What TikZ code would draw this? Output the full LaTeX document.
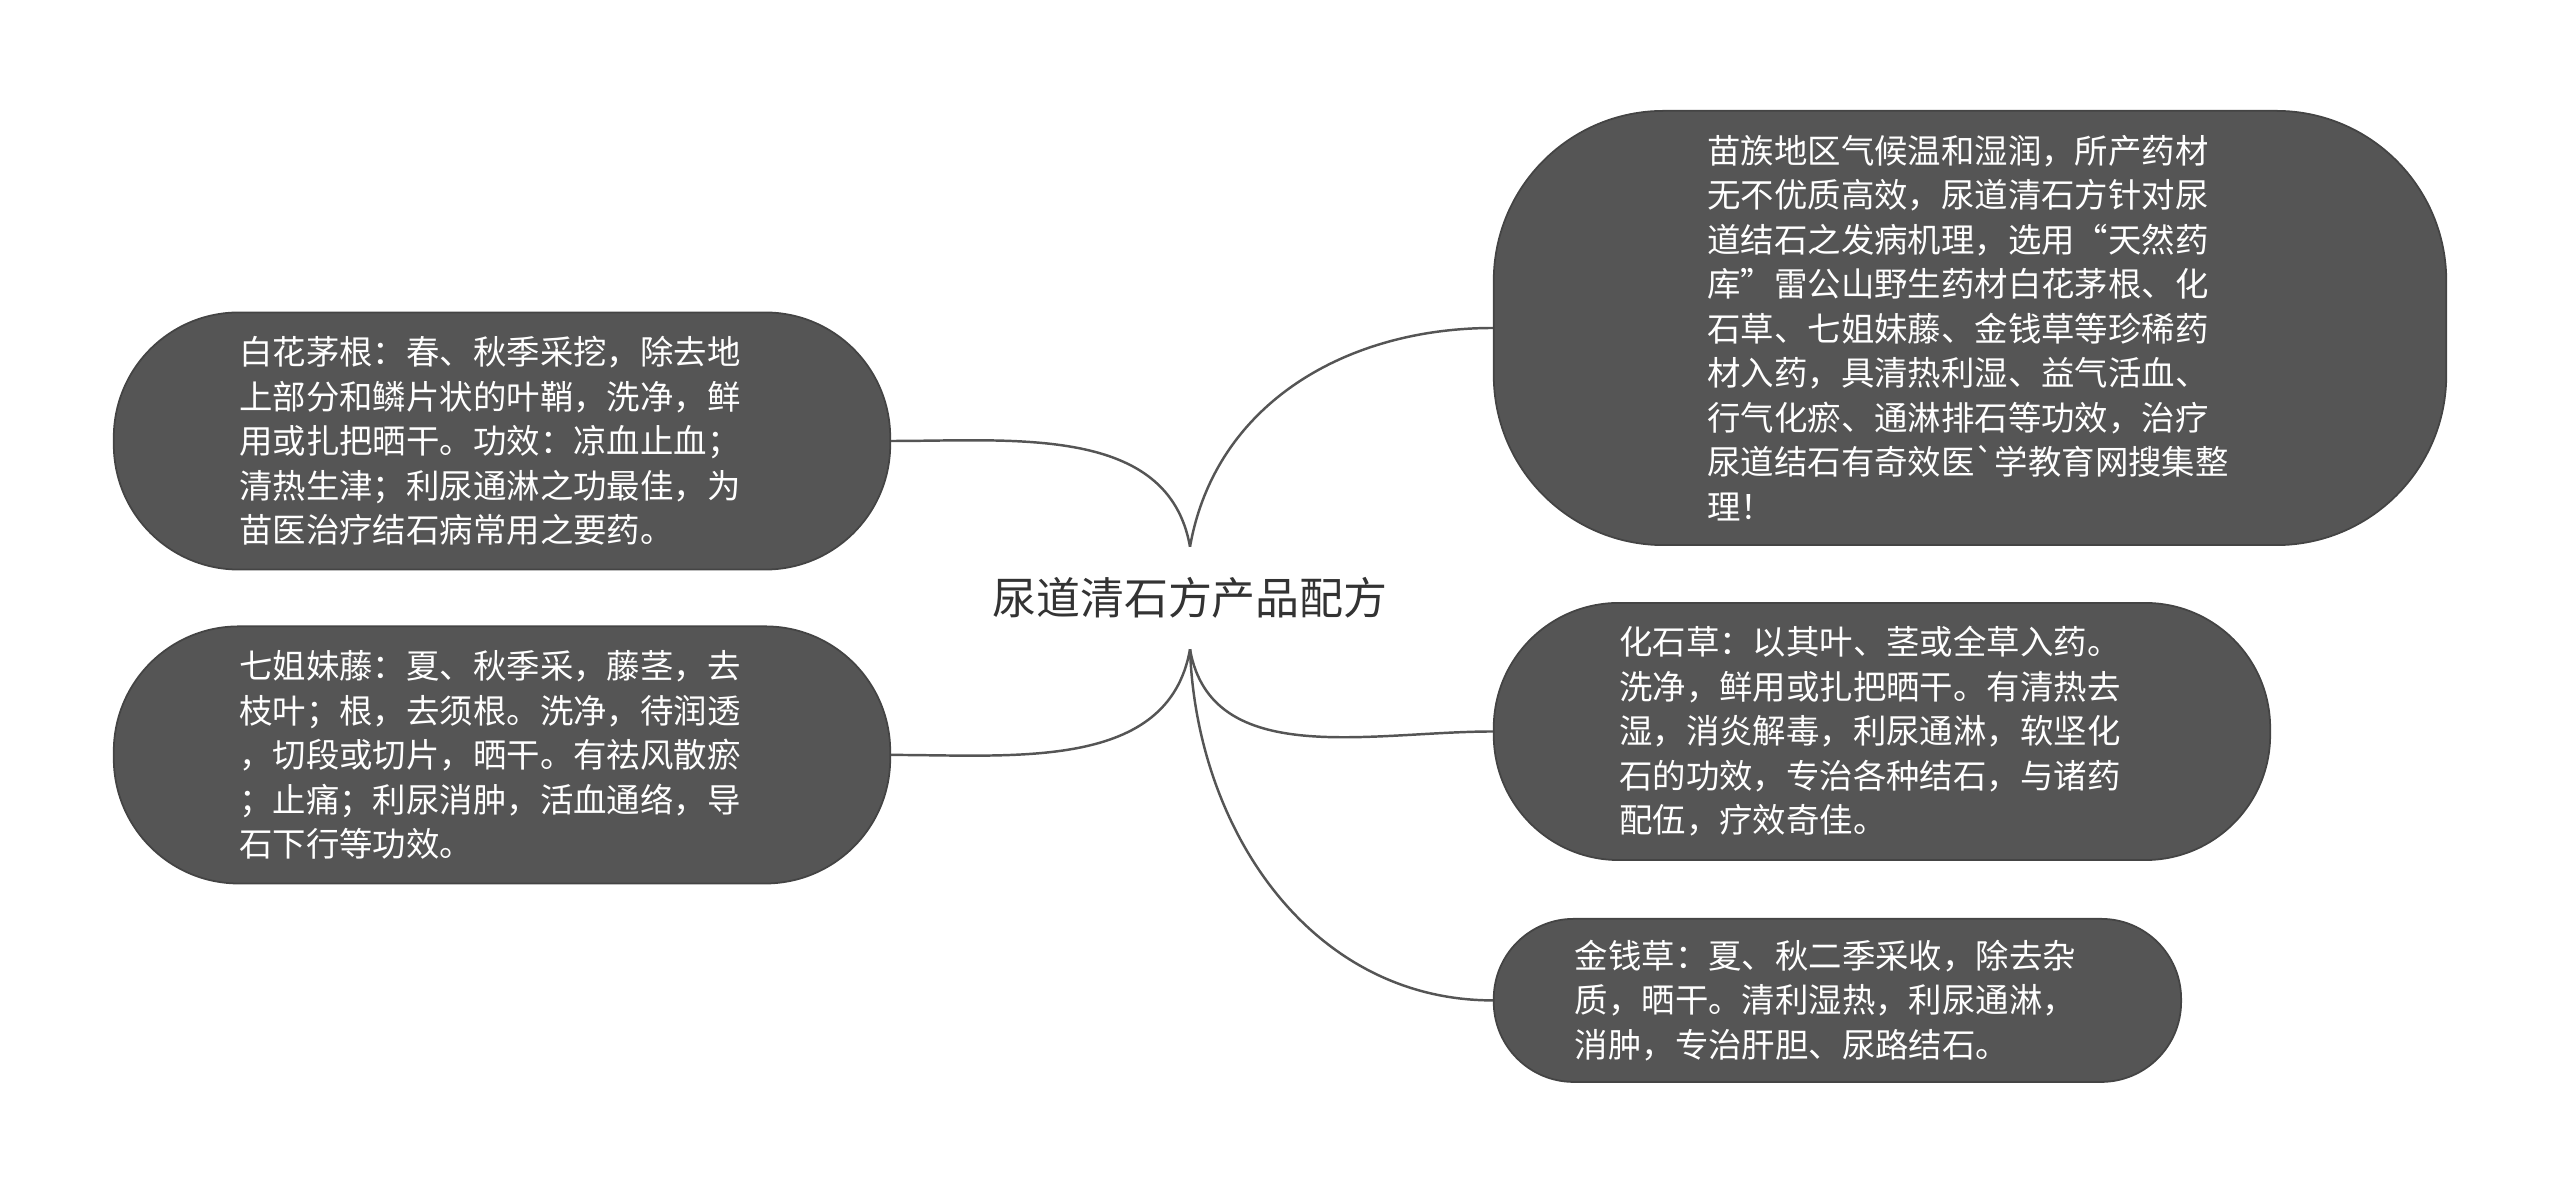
\documentclass[tikz,border=0pt]{standalone}
\usepackage{fontspec}
\newfontfamily\cjkfont{Noto Sans CJK SC}
\usepackage{tikz}
\usetikzlibrary{positioning}

\definecolor{leafgray}{HTML}{555555}
\definecolor{linkgray}{HTML}{555555}
\definecolor{rootink}{HTML}{333333}

\begin{document}
\begin{tikzpicture}[
    x=0.01cm, y=0.01cm,
    node distance=0.55cm,
    %% ── Node styles ───────────────────────────────────────────
    root/.style={
        inner xsep=0.1cm, inner ysep=0.3cm,
        text=rootink,
        font=\cjkfont\fontsize{12.5}{15}\selectfont
    },
    leaf/.style={
        rectangle, rounded corners=1.25cm,
        minimum width=7.76cm, minimum height=2.57cm,
        draw=leafgray!80!black, fill=leafgray, line width=0.5pt,
        text=white, align=left, text width=5.25cm,
        font=\cjkfont\fontsize{9.5}{12.65}\selectfont
    },
    bigleaf/.style={
        leaf, rounded corners=1.7cm,
        minimum width=9.52cm, minimum height=4.34cm
    },
    smallleaf/.style={
        leaf, rounded corners=0.8cm,
        minimum width=6.87cm, minimum height=1.63cm
    },
    link/.style={draw=linkgray, line width=0.7pt}
]
\useasboundingbox (0,0) rectangle (2560,-1195);

%% ── Nodes ──────────────────────────────────────────────────────
\node (root)    at (1190,-598) [root]    {尿道清石方产品配方};
\node (miao)    at (1970,-328) [bigleaf] {苗族地区气候温和湿润，所产药材\\
无不优质高效，尿道清石方针对尿\\
道结石之发病机理，选用“天然药\\
库”雷公山野生药材白花茅根、化\\
石草、七姐妹藤、金钱草等珍稀药\\
材入药，具清热利湿、益气活血、\\
行气化瘀、通淋排石等功效，治疗\\
尿道结石有奇效医`学教育网搜集整\\
理！};
\node (huashi)  [leaf, below=0.56cm of miao.south west, anchor=north west] {化石草：以其叶、茎或全草入药。\\
洗净，鲜用或扎把晒干。有清热去\\
湿，消炎解毒，利尿通淋，软坚化\\
石的功效，专治各种结石，与诸药\\
配伍，疗效奇佳。};
\node (jinqian) [smallleaf, below=0.57cm of huashi.south west, anchor=north west] {金钱草：夏、秋二季采收，除去杂\\
质，晒干。清利湿热，利尿通淋，\\
消肿，专治肝胆、尿路结石。};
\node (baihua)  at (502,-441) [leaf]     {白花茅根：春、秋季采挖，除去地\\
上部分和鳞片状的叶鞘，洗净，鲜\\
用或扎把晒干。功效：凉血止血；\\
清热生津；利尿通淋之功最佳，为\\
苗医治疗结石病常用之要药。};
\node (qijie)   [leaf, below=of baihua]  {七姐妹藤：夏、秋季采，藤茎，去\\
枝叶；根，去须根。洗净，待润透\\
，切段或切片，晒干。有祛风散瘀\\
；止痛；利尿消肿，活血通络，导\\
石下行等功效。};

%% ── Links ──────────────────────────────────────────────────────
\draw [link] (root.north)  to[out=80, in=180]  (miao.west);
\draw [link] (baihua.east) to[out=0, in=100]   (root.north);
\draw [link] (root.south)  to[out=-100, in=0]  (qijie.east);
\draw [link] (root.south)  to[out=-80, in=180] (huashi.west);
\draw [link] (root.south)  to[out=-88, in=180] (jinqian.west);

\end{tikzpicture}
\end{document}
